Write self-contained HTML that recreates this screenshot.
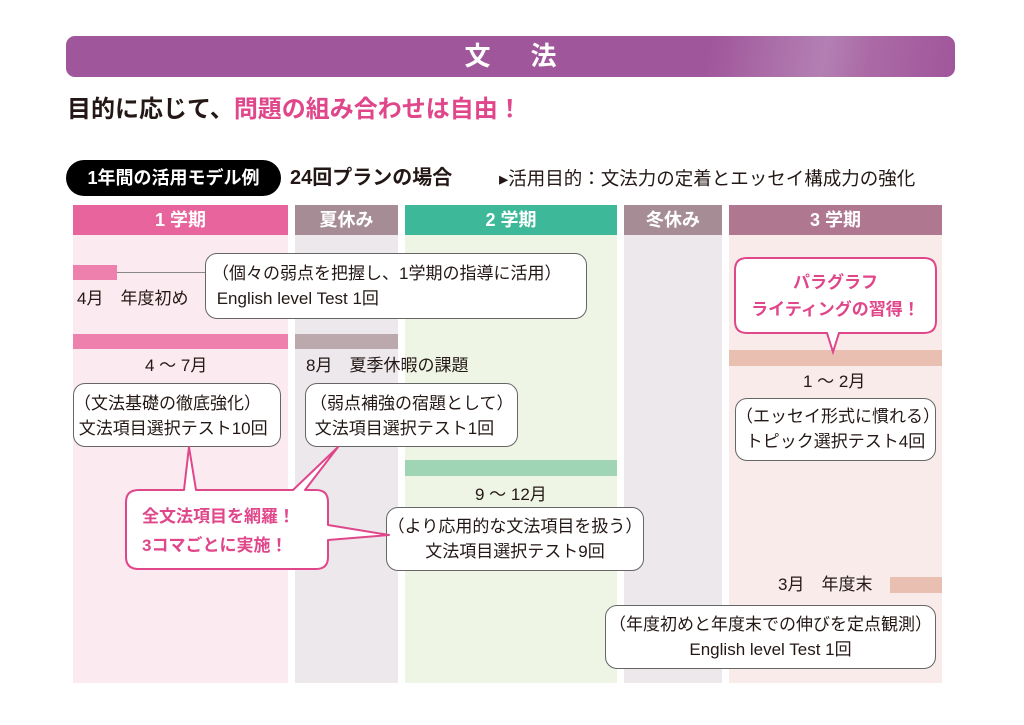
<!DOCTYPE html>
<html><head><meta charset="utf-8"><style>
*{margin:0;padding:0;box-sizing:border-box}
body{width:1024px;height:725px;background:#fff;position:relative;overflow:hidden;font-family:"Liberation Sans","Noto Sans CJK JP",sans-serif;color:#231815}
.a{position:absolute}
.box{position:absolute;background:#fff;border:1.3px solid #666;border-radius:12px;font-size:17px;line-height:25px;white-space:nowrap}
.hd{position:absolute;top:205px;height:30px;color:#fff;font-size:18px;line-height:30px;text-align:center;font-weight:bold}
.lbl{position:absolute;font-size:17px;line-height:20px;white-space:nowrap}
</style></head><body>
<div class="a" style="left:66px;top:36px;width:889px;height:41px;border-radius:9px;background:linear-gradient(100deg,#a0569b 0%,#a0569b 72%,#b380b3 85%,#ab6aa6 90%,#a0569b 100%)"></div>
<div class="a" style="left:66px;top:36px;width:889px;height:41px;color:#fff;font-size:26px;line-height:41px;text-align:center;font-weight:bold;letter-spacing:40px;padding-left:40px">文法</div>
<div class="a" style="left:67px;top:94px;font-size:24px;font-weight:bold;line-height:32px;white-space:nowrap">目的に応じて、<span style="color:#e0468a">問題の組み合わせは自由！</span></div>
<div class="a" style="left:66px;top:160px;width:215px;height:36px;border-radius:18px;background:#000;color:#fff;font-size:18px;font-weight:bold;line-height:36px;text-align:center;white-space:nowrap">1年間の活用モデル例</div>
<div class="a" style="left:290px;top:166px;font-size:20px;font-weight:bold;line-height:24px;white-space:nowrap">24回プランの場合</div>
<div class="a" style="left:499px;top:168px;font-size:18.5px;line-height:22px;white-space:nowrap">▸活用目的：文法力の定着とエッセイ構成力の強化</div>

<div class="a" style="left:73px;top:235px;width:215px;height:448px;background:#fbeaef"></div>
<div class="a" style="left:295px;top:235px;width:103px;height:448px;background:#ece8ec"></div>
<div class="a" style="left:405px;top:235px;width:212px;height:448px;background:#eef5e5"></div>
<div class="a" style="left:624px;top:235px;width:98px;height:448px;background:#ece8ec"></div>
<div class="a" style="left:729px;top:235px;width:213px;height:448px;background:#f8ebe9"></div>

<div class="hd" style="left:73px;width:215px;background:#e8649c">1 学期</div>
<div class="hd" style="left:295px;width:103px;background:#a68d95">夏休み</div>
<div class="hd" style="left:405px;width:212px;background:#3db99a">2 学期</div>
<div class="hd" style="left:624px;width:98px;background:#a68d95">冬休み</div>
<div class="hd" style="left:729px;width:213px;background:#b07890">3 学期</div>

<div class="a" style="left:73px;top:265px;width:44px;height:15px;background:#ee80ae"></div>
<div class="a" style="left:117px;top:272px;width:90px;height:1px;background:#888"></div>
<div class="a" style="left:73px;top:334px;width:215px;height:15px;background:#ee80ae"></div>
<div class="a" style="left:295px;top:334px;width:103px;height:15px;background:#bba9ae"></div>
<div class="a" style="left:405px;top:460px;width:212px;height:16px;background:#9fd4b4"></div>
<div class="a" style="left:729px;top:350px;width:213px;height:16px;background:#e9bfb2"></div>
<div class="a" style="left:890px;top:577px;width:52px;height:16px;background:#e9bfb2"></div>

<div class="lbl" style="left:77px;top:289px">4月　年度初め</div>
<div class="lbl" style="left:145px;top:356px">4 ～ 7月</div>
<div class="lbl" style="left:306px;top:356px">8月　夏季休暇の課題</div>
<div class="lbl" style="left:475px;top:485px">9 ～ 12月</div>
<div class="lbl" style="left:803px;top:372px">1 ～ 2月</div>
<div class="lbl" style="left:778px;top:575px">3月　年度末</div>

<div class="box" style="left:205px;top:253px;width:382px;height:66px;padding:7px 0 0 6px">（個々の弱点を把握し、1学期の指導に活用）<br>&nbsp;English level Test 1回</div>
<div class="box" style="left:73px;top:383px;width:208px;height:64px;padding:7px 0 0 0">（文法基礎の徹底強化）<br>&nbsp;文法項目選択テスト10回</div>
<div class="box" style="left:305px;top:383px;width:213px;height:64px;padding:7px 0 0 4px">（弱点補強の宿題として）<br>&nbsp;文法項目選択テスト1回</div>
<div class="box" style="left:386px;top:507px;width:258px;height:64px;padding:6px 0 0 0;text-align:center">（より応用的な文法項目を扱う）<br>文法項目選択テスト9回</div>
<div class="box" style="left:735px;top:398px;width:201px;height:63px;padding:5px 0 0 0;text-align:center">（エッセイ形式に慣れる）<br>トピック選択テスト4回</div>
<div class="box" style="left:605px;top:605px;width:331px;height:64px;padding:6px 0 0 0;text-align:center">（年度初めと年度末での伸びを定点観測）<br>English level Test 1回</div>

<svg class="a" style="left:0;top:0" width="1024" height="725">
<path d="M747 258 H924 Q936 258 936 270 V321 Q936 333 924 333 H839 L833 352 L827 333 H747 Q735 333 735 321 V270 Q735 258 747 258 Z" fill="#fff" stroke="#e0468a" stroke-width="2"/>
<path d="M139 490 H184 L189 447 L196 490 H293 L338 447 L305 490 H316 Q328 490 328 502 V525 L389 535 L328 540 V557 Q328 569 316 569 H139 Q126 569 126 557 V502 Q126 490 139 490 Z" fill="#fff" stroke="#e0468a" stroke-width="2" stroke-linejoin="round"/>
</svg>
<div class="a" style="left:735px;top:269px;width:201px;text-align:center;color:#e0468a;font-size:17px;font-weight:bold;line-height:27px">パラグラフ<br>ライティングの習得！</div>
<div class="a" style="left:142px;top:502px;color:#e0468a;font-size:17px;font-weight:bold;line-height:29px;white-space:nowrap">全文法項目を網羅！<br>3コマごとに実施！</div>
</body></html>
